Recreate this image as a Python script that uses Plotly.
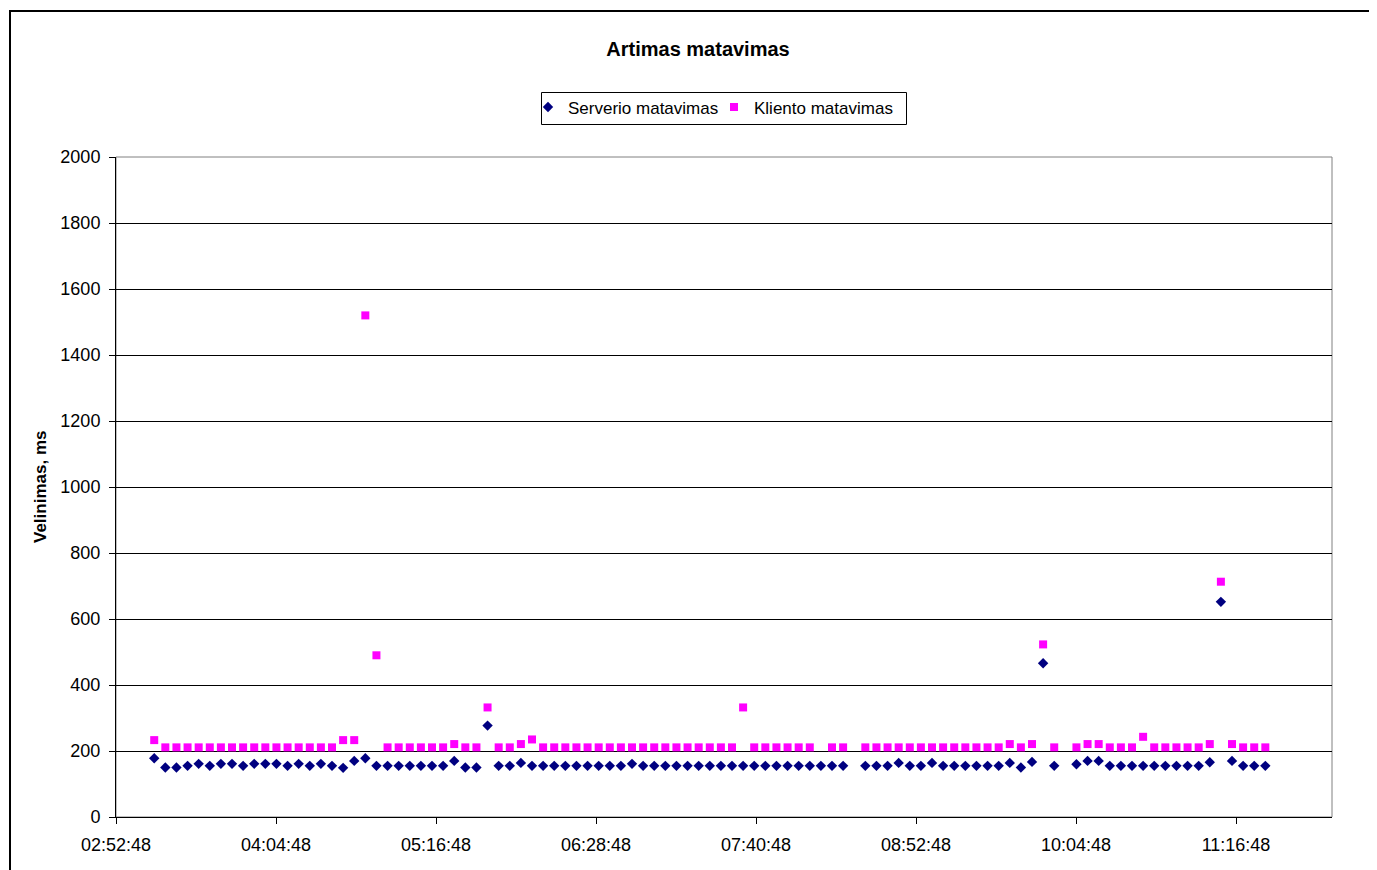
import plotly.graph_objects as go

times = [
    "03:10", "03:15", "03:20", "03:25", "03:30", "03:35", "03:40", "03:45", "03:50", "03:55",
    "04:00", "04:05", "04:10", "04:15", "04:20", "04:25", "04:30", "04:35", "04:40", "04:45", "04:50", "04:55",
    "05:00", "05:05", "05:10", "05:15", "05:20", "05:25", "05:30", "05:35", "05:40", "05:45", "05:50", "05:55",
    "06:00", "06:05", "06:10", "06:15", "06:20", "06:25", "06:30", "06:35", "06:40", "06:45", "06:50", "06:55",
    "07:00", "07:05", "07:10", "07:15", "07:20", "07:25", "07:30", "07:35", "07:40", "07:45", "07:50", "07:55",
    "08:00", "08:05", "08:10", "08:15", "08:20", "08:25", "08:30", "08:35", "08:40", "08:45", "08:50", "08:55",
    "09:00", "09:05", "09:10", "09:15", "09:20", "09:25", "09:30", "09:35", "09:40", "09:45", "09:50", "09:55",
    "10:00", "10:05", "10:10", "10:15", "10:20", "10:25", "10:30", "10:35", "10:40", "10:45", "10:50", "10:55",
    "11:00", "11:05", "11:10", "11:15", "11:20", "11:25", "11:30",
]

serverio = [
    178, 150, 150, 155, 161, 155, 161, 161, 155, 161,
    161, 161, 155, 161, 155, 161, 155, 149, 170, 178,
    155, 155, 155, 155, 155, 155, 155, 170, 150, 150,
    277, 155, 155, 164, 155, 155, 155, 155, 155, 155,
    155, 155, 155, 161, 155, 155, 155, 155, 155, 155,
    155, 155, 155, 155, 155, 155, 155, 155, 155, 155,
    155, 155, 155, None, 155, 155, 155, 164, 155, 155,
    164, 155, 155, 155, 155, 155, 155, 164, 150, 167,
    466, 155, None, 160, 170, 170, 155, 155, 155, 155,
    155, 155, 155, 155, 155, 166, 652, 170, 155, 155,
    155,
]

kliento = [
    233, 211, 211, 211, 211, 211, 211, 211, 211, 211,
    211, 211, 211, 211, 211, 211, 211, 233, 233, 1520,
    490, 211, 211, 211, 211, 211, 211, 221, 211, 211,
    332, 211, 211, 221, 235, 211, 211, 211, 211, 211,
    211, 211, 211, 211, 211, 211, 211, 211, 211, 211,
    211, 211, 211, 332, 211, 211, 211, 211, 211, 211,
    None, 211, 211, None, 211, 211, 211, 211, 211, 211,
    211, 211, 211, 211, 211, 211, 211, 221, 211, 221,
    523, 211, None, 211, 221, 221, 211, 211, 211, 243,
    211, 211, 211, 211, 211, 221, 713, 221, 211, 211,
    211,
]

x_ticks = ["02:52:48", "04:04:48", "05:16:48", "06:28:48", "07:40:48",
           "08:52:48", "10:04:48", "11:16:48"]
y_ticks = [0, 200, 400, 600, 800, 1000, 1200, 1400, 1600, 1800, 2000]

DAY = "2000-01-01 "
xs = [DAY + t + ":00" for t in times]

FONT = "Liberation Sans, Arial, sans-serif"

fig = go.Figure()
fig.add_trace(go.Scatter(
    x=xs, y=serverio, mode="markers", name="Serverio matavimas",
    marker=dict(symbol="diamond", size=8, color="#000080", line=dict(width=0)),
))
fig.add_trace(go.Scatter(
    x=xs, y=kliento, mode="markers", name="Kliento matavimas",
    marker=dict(symbol="square", size=8, color="#FF00FF", line=dict(width=0)),
))

# page body has an 8px margin
OFF = 8
L, R, T, B = 116, 1332, 157, 817
W, H = 1377 - OFF, 870 - OFF
pw, ph = R - L, B - T

def px_x(p):
    return (p - L) / pw

def px_y(p):
    return (B - p) / ph

fig.update_layout(
    width=W, height=H, autosize=False,
    margin=dict(l=L - OFF, r=W - (R - OFF), t=T - OFF, b=H - (B - OFF), pad=0),
    paper_bgcolor="white", plot_bgcolor="white",
    font=dict(family=FONT, size=18, color="black"),
    title=dict(text="<b>Artimas matavimas</b>", x=(698 - OFF) / W, xanchor="center",
               y=1 - (49 - OFF) / H, yanchor="middle", font=dict(size=20, family=FONT)),
    showlegend=True,
    legend=dict(orientation="h", x=px_x(528), xanchor="left", y=px_y(89.5), yanchor="top",
                borderwidth=0, bgcolor="rgba(0,0,0,0)",
                font=dict(size=17, family=FONT), itemwidth=30,
                entrywidth=141, entrywidthmode="pixels",
                tracegroupgap=0),
    xaxis=dict(
        type="date",
        range=[DAY + "02:52:48", DAY + "12:00:00"],
        tickmode="array",
        tickvals=[DAY + t for t in x_ticks],
        ticktext=x_ticks,
        showgrid=False, zeroline=False,
        showline=True, linecolor="black", linewidth=1,
        ticks="outside", ticklen=6, tickcolor="black",
        ticklabelstandoff=5,
        tickfont=dict(size=18, family=FONT),
    ),
    yaxis=dict(
        range=[0, 2000],
        tickmode="array", tickvals=y_ticks,
        showgrid=True, gridcolor="black", gridwidth=1,
        zeroline=False,
        showline=True, linecolor="black", linewidth=1,
        ticks="outside", ticklen=6, tickcolor="black",
        ticklabelstandoff=5,
        tickfont=dict(size=18, family=FONT),
    ),
)

# y-axis title
fig.add_annotation(text="<b>Velinimas, ms</b>", xref="paper", yref="paper",
                   x=px_x(40), y=px_y(487), textangle=-90, showarrow=False,
                   font=dict(size=17, family=FONT), xanchor="center", yanchor="middle")

# plot area border (gray)
fig.add_shape(type="rect", xref="paper", yref="paper", x0=0, x1=1, y0=0, y1=1,
              line=dict(color="#808080", width=1), layer="below")
# outer chart border
fig.add_shape(type="rect", xref="paper", yref="paper",
              x0=px_x(10), x1=px_x(1392), y0=px_y(880), y1=px_y(11),
              line=dict(color="black", width=2), layer="below")
# legend frame
fig.add_shape(type="rect", xref="paper", yref="paper",
              x0=px_x(541.5), x1=px_x(906.5), y0=px_y(124.5), y1=px_y(92.5),
              line=dict(color="black", width=1), fillcolor="white", layer="below")

fig.write_html("out.html")
